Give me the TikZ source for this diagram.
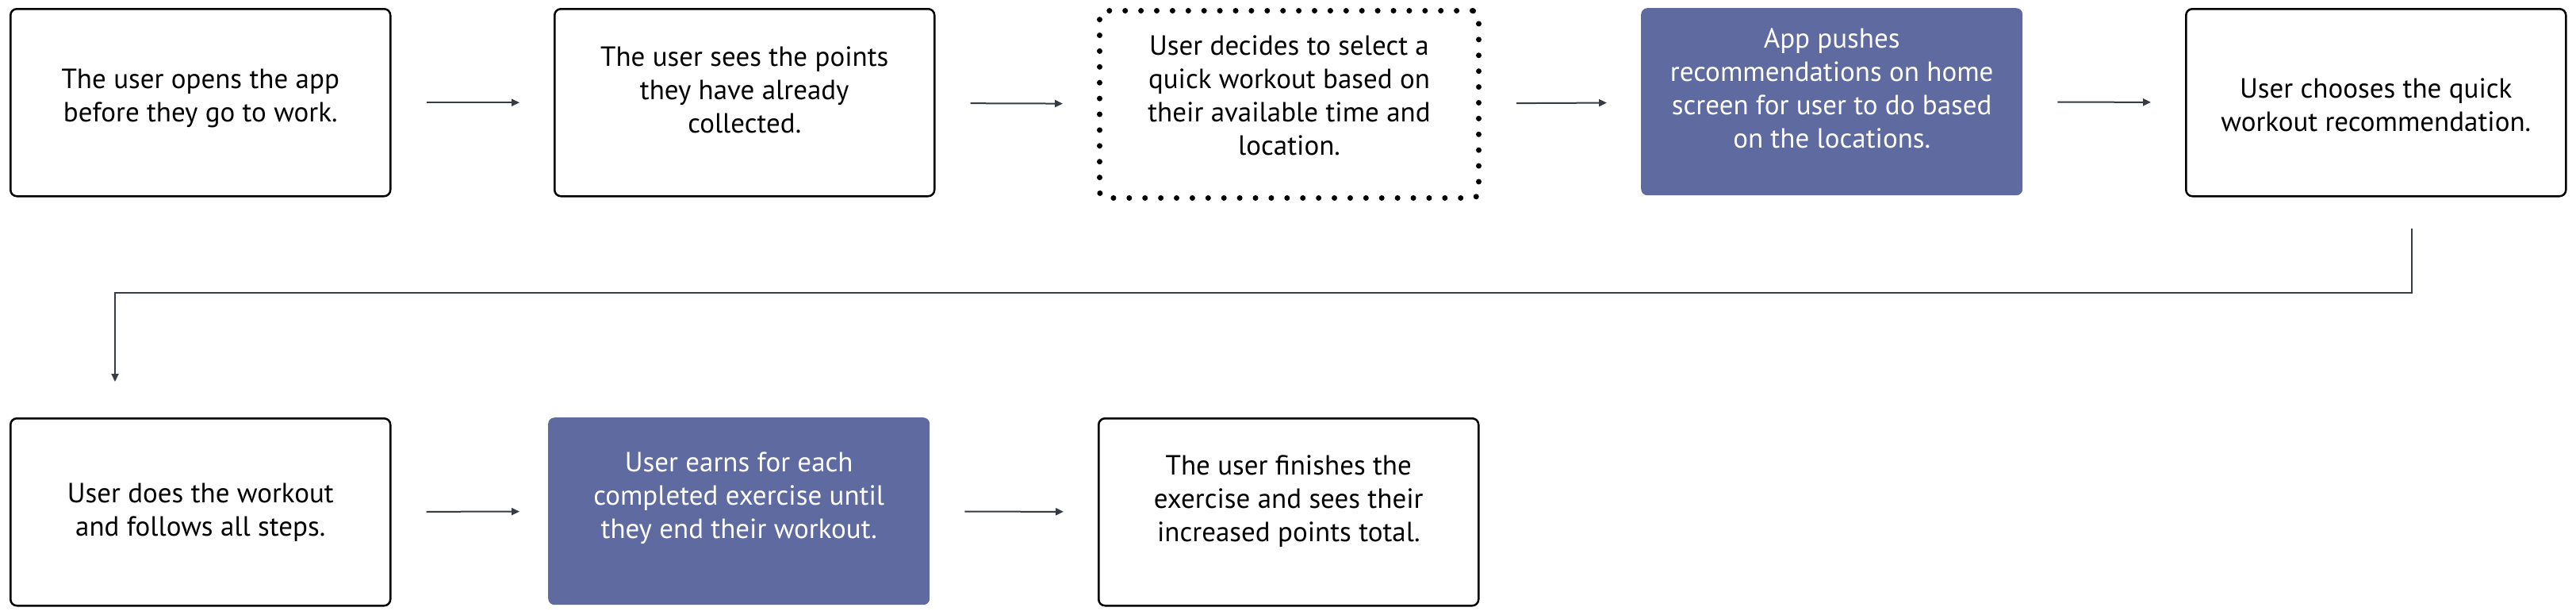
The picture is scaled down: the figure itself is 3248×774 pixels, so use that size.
\documentclass[tikz,border=0pt]{standalone}
\usepackage{fontspec}
\setmainfont{PT Sans}
\usetikzlibrary{arrows.meta,calc}
\definecolor{boxfill}{RGB}{94,106,160}
\definecolor{arrowc}{RGB}{55,60,68}
\begin{document}
\begin{tikzpicture}[x=1pt,y=-1pt,
  box/.style={draw=black,line width=2.5pt,rounded corners=8pt,minimum width=479pt,minimum height=236pt,anchor=north west,inner sep=0pt},
  fillbox/.style={fill=boxfill,rounded corners=8pt,minimum width=481pt,minimum height=236pt,anchor=north west,inner sep=0pt},
  dotbox/.style={draw=black,line width=7pt,dash pattern=on 0pt off 19.9pt,line cap=round,rounded corners=8pt,minimum width=478pt,minimum height=236pt,anchor=north west,inner sep=0pt},
  txt/.style={align=center,font=\fontsize{35}{42}\selectfont,text=black,inner sep=0pt},
  wtxt/.style={txt,text=white},
  flow/.style={draw=arrowc,line width=2pt,-{Triangle[length=10pt,width=9pt]}},
]
\fill[white] (0,0) rectangle (3248,774);
\useasboundingbox (0,0) rectangle (3248,774);

\node[box] (b1) at (12,10) {};
\node[box] (b2) at (698,10) {};
\node[dotbox] (b3) at (1383,10) {};
\node[fillbox] (b4) at (2069,10) {};
\node[box] (b5) at (2755,10) {};
\node[box] (b6) at (12,526) {};
\node[fillbox] (b7) at (691,526) {};
\node[box] (b8) at (1384,526) {};

\node[txt] (t1) at ($(b1.center)+(0,-5)$) {The user opens the app\\before they go to work.};
\node[txt] (t2) at ($(b2.center)+(0,-16)$) {The user sees the points\\they have already\\collected.};
\node[txt] (t3) at ($(b3.center)+(0,-11)$) {User decides to select a\\quick workout based on\\their available time and\\location.};
\node[wtxt] (t4) at ($(b4.center)+(0,-17)$) {App pushes\\recommendations on home\\screen for user to do based\\on the locations.};
\node[txt] (t5) at ($(b5.center)+(0,3)$) {User chooses the quick\\workout recommendation.};
\node[txt] (t6) at ($(b6.center)+(0,0)$) {User does the workout\\and follows all steps.};
\node[wtxt] (t7) at ($(b7.center)+(0,-16)$) {User earns for each\\completed exercise until\\they end their workout.};
\node[txt] (t8) at ($(b8.center)+(0,-14)$) {The user finishes the\\exercise and sees their\\increased points total.};

\draw[flow,shorten <=44pt,shorten >=43pt] (b1) -- (b2);
\draw[flow,shorten <=44pt,shorten >=43pt] (b2) -- (b3);
\draw[flow,shorten <=44pt,shorten >=43pt] (b3) -- (b4);
\draw[flow,shorten <=44pt,shorten >=43pt] (b4) -- (b5);
\draw[flow,shorten <=44pt,shorten >=36pt] (b6) -- (b7);
\draw[flow,shorten <=44pt,shorten >=43pt] (b7) -- (b8);

\coordinate (k1) at (3041,288);
\coordinate (k2) at (145,481);
\draw[flow] (k1) -- (3041,369) -| (k2);
\end{tikzpicture}
\end{document}
